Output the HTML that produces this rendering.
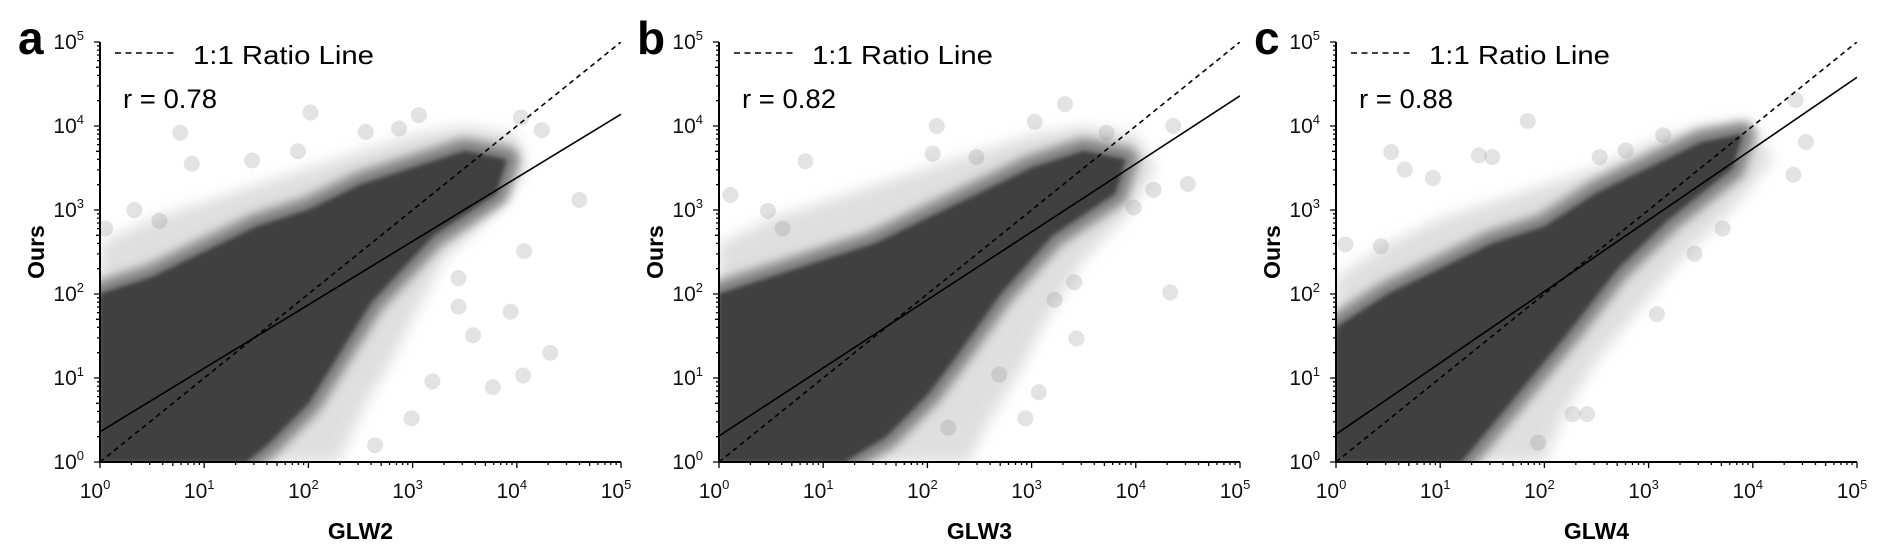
<!DOCTYPE html>
<html><head><meta charset="utf-8"><style>
html,body{margin:0;padding:0;background:#fff;}
svg{display:block;font-family:"Liberation Sans",Arial,sans-serif;}
</style></head><body>
<svg id="fig" width="1892" height="559" viewBox="0 0 1892 559" xmlns="http://www.w3.org/2000/svg">
<defs><filter id="blur" x="-10%" y="-10%" width="120%" height="120%"><feGaussianBlur stdDeviation="7"/></filter>
<filter id="blur3" x="-10%" y="-10%" width="120%" height="120%"><feGaussianBlur stdDeviation="5"/></filter>
<filter id="blur2" x="-10%" y="-10%" width="120%" height="120%"><feGaussianBlur stdDeviation="2"/></filter></defs>
</svg>
<script>
// ---- data (log10 units) ----
const panelLetters = ["a","b","c"];
const xTitles = ["GLW2","GLW3","GLW4"];
const rValues = ["0.78","0.82","0.88"];
const tickExps = [0,1,2,3,4,5];
const fitIntercepts = [0.36, 0.31, 0.33];
const fitSlopes = [0.756, 0.81, 0.85];
const coreA = [[0,0],[0,2.0],[0.5,2.2],[1,2.5],[1.5,2.8],[2,3.0],[2.5,3.3],[3,3.5],[3.5,3.7],[3.9,3.6],[3.8,3.2],[3.2,2.7],[2.6,1.9],[2.3,1.3],[2.0,0.7],[1.6,0.2],[1.4,0]];
const haloA = [[0,0],[0,2.6],[0.5,2.9],[1,3.1],[1.5,3.3],[2,3.5],[2.5,3.7],[3,3.9],[3.5,4.0],[4,3.9],[4.1,3.5],[3.8,3.0],[3.3,2.4],[3,1.7],[2.8,1.2],[2.6,0.8],[2.4,0.3],[2.3,0]];
const coreB = [[0,0],[0,2.0],[0.5,2.2],[1,2.4],[1.5,2.6],[2,2.9],[2.5,3.2],[3,3.5],[3.5,3.7],[3.9,3.6],[3.8,3.2],[3.2,2.7],[2.7,2.0],[2.3,1.3],[2.0,0.8],[1.6,0.3],[1.2,0]];
const haloB = [[0,0],[0,2.6],[0.5,2.9],[1,3.1],[1.5,3.3],[2,3.5],[2.5,3.7],[3,3.9],[3.5,4.0],[4,3.9],[4.2,3.5],[3.9,2.9],[3.5,2.4],[3.1,1.6],[2.9,1.1],[2.6,0.5],[2.4,0]];
const coreC = [[0,0],[0,1.6],[0.5,2.0],[1,2.3],[1.5,2.6],[2,2.8],[2.5,3.2],[3,3.5],[3.5,3.8],[3.9,3.9],[3.8,3.5],[3.2,2.9],[2.7,2.3],[2.2,1.5],[1.8,0.9],[1.4,0.3],[1.2,0]];
const haloC = [[0,0],[0,2.2],[0.5,2.6],[1,2.9],[1.5,3.1],[2,3.3],[2.5,3.5],[3,3.8],[3.5,4.0],[4,4.0],[4.2,3.6],[3.8,3.0],[3.3,2.4],[2.9,1.8],[2.5,1.2],[2.2,0.6],[2,0]];
const outA = [[2.02,4.16],[0.77,3.92],[3.06,4.13],[4.04,4.10],[4.24,3.95],[4.6,3.12],[4.32,1.30],[4.06,1.03],[3.77,0.89],[3.94,1.79],[3.58,1.51],[4.07,2.51],[2.99,0.52],[2.64,0.2],[0.33,3.0],[0.88,3.55],[1.46,3.59],[1.9,3.7],[3.44,2.19],[3.19,0.96],[3.44,1.85],[0.05,2.78],[0.57,2.87],[2.55,3.93],[2.87,3.97]];
const outB = [[2.09,4.0],[3.32,4.26],[3.03,4.05],[0.83,3.58],[0.11,3.18],[0.47,2.99],[2.05,3.67],[2.47,3.63],[4.5,3.31],[4.33,2.02],[3.43,1.47],[2.94,0.52],[3.07,0.83],[4.36,4.0],[4.17,3.24],[3.22,1.93],[3.41,2.14],[2.69,1.04],[2.2,0.41],[0.61,2.78],[3.98,3.03],[3.72,3.92]];
const outC = [[1.84,4.06],[0.53,3.69],[0.66,3.48],[0.93,3.38],[1.37,3.65],[1.5,3.63],[4.51,3.81],[4.39,3.42],[4.41,4.31],[3.08,1.76],[2.41,0.57],[2.27,0.57],[1.94,0.23],[0.09,2.59],[0.43,2.57],[3.44,2.48],[3.71,2.78],[3.14,3.89],[2.53,3.63],[2.78,3.71]];
const cores = [coreA, coreB, coreC];
const halos = [haloA, haloB, haloC];
const outliers = [outA, outB, outC];

const NS = "http://www.w3.org/2000/svg";
const svg = document.getElementById("fig");
const lefts = [100, 719, 1336];
const W = 521, TOP = 42, BOT = 462;
function mk(tag, attrs, parent){ const e=document.createElementNS(NS,tag); for(const k in attrs) e.setAttribute(k,attrs[k]); (parent||svg).appendChild(e); return e; }

for (let p=0; p<3; p++){
  const L = lefts[p];
  const xs = v => L + v/5*W;
  const ys = v => BOT - v/5*(BOT-TOP);
  const g = mk("g",{});
  
  
  const clipId = "clip"+p;
  const cp = mk("clipPath",{id:clipId}, svg.querySelector("defs"));
  mk("rect",{x:L,y:TOP,width:W,height:BOT-TOP},cp);
  const sc = mk("g",{"clip-path":"url(#"+clipId+")"}, g);
  
  
  const pts = arr => arr.map(q=>xs(q[0]).toFixed(1)+","+ys(q[1]).toFixed(1)).join(" ");
  const halo = mk("polygon",{points:pts(halos[p]),fill:"#9a9a9a","fill-opacity":"0.32",filter:"url(#blur)"},sc);
  
  
  outliers[p].forEach(q=>{
    const c = mk("circle",{cx:xs(q[0]),cy:ys(q[1]),r:8,fill:"#808080","fill-opacity":"0.22"},sc);
    
    
  });
  const fringe = mk("polygon",{points:pts(cores[p]),fill:"#555","fill-opacity":"0.75",stroke:"#606060","stroke-opacity":"0.7","stroke-width":26,"stroke-linejoin":"round",filter:"url(#blur3)"},sc);
  
  
  const core = mk("polygon",{points:pts(cores[p]),fill:"#404040",filter:"url(#blur2)"},sc);
  
  
  // lines
  const one = mk("line",{x1:xs(0),y1:ys(0),x2:xs(5),y2:ys(5),stroke:"#000","stroke-width":1.6,"stroke-dasharray":"5,4"},sc);
  
  
  const fit = mk("line",{x1:xs(0),y1:ys(fitIntercepts[p]),x2:xs(5),y2:ys(fitIntercepts[p]+5*fitSlopes[p]),stroke:"#000","stroke-width":1.6},sc);
  
  
  // axes
  const ax = mk("path",{d:`M${L},${TOP} V${BOT} H${L+W}`,fill:"none",stroke:"#000","stroke-width":2},g);
  
  
  let d="";
  for (let e=0;e<5;e++){ for(let k=2;k<10;k++){ const v=e+Math.log10(k);
    const len = k==5?4:3;
    d+=`M${xs(v).toFixed(1)},${BOT}v${len}M${L},${ys(v).toFixed(1)}h-${len}`; } }
  tickExps.forEach(e=>{ d+=`M${xs(e).toFixed(1)},${BOT}v6M${L},${ys(e).toFixed(1)}h-6`; });
  mk("path",{d:d,stroke:"#000","stroke-width":1.3,fill:"none"},g);
  tickExps.forEach(e=>{
    const t = mk("text",{x:xs(e)-5,y:498,"font-size":21,"text-anchor":"middle",fill:"#111"},g);
    
    
    t.innerHTML = `10<tspan dy="-9" font-size="13">${e}</tspan>`;
    const u = mk("text",{x:L-16,y:ys(e)+7,"font-size":21,"text-anchor":"end",fill:"#111"},g);
    
    
    u.innerHTML = `10<tspan dy="-9" font-size="13">${e}</tspan>`;
  });
  const xt = mk("text",{x:L+W/2,y:539,"font-size":23,"font-weight":"bold","text-anchor":"middle"},g);
  
  
  xt.textContent = xTitles[p];
  const yt = mk("text",{x:0,y:0,"font-size":23,"font-weight":"bold","text-anchor":"middle",transform:`translate(${L-56},${(TOP+BOT)/2}) rotate(-90)`},g);
  
  
  yt.textContent = "Ours";
  const pl = mk("text",{x:L-82,y:54,"font-size":46,"font-weight":"bold"},g);
  
  
  pl.textContent = panelLetters[p];
  const lg = mk("line",{x1:L+15,y1:53,x2:L+77,y2:53,stroke:"#000","stroke-width":1.6,"stroke-dasharray":"6,4.5"},g);
  
  
  const lt = mk("text",{x:L+93,y:64,"font-size":26,textLength:181,lengthAdjust:"spacingAndGlyphs"},g);
  
  
  lt.textContent = "1:1 Ratio Line";
  const rt = mk("text",{x:L+23,y:108,"font-size":27,textLength:94,lengthAdjust:"spacingAndGlyphs"},g);
  
  
  rt.textContent = "r = "+rValues[p];
}
</script>
</body></html>
